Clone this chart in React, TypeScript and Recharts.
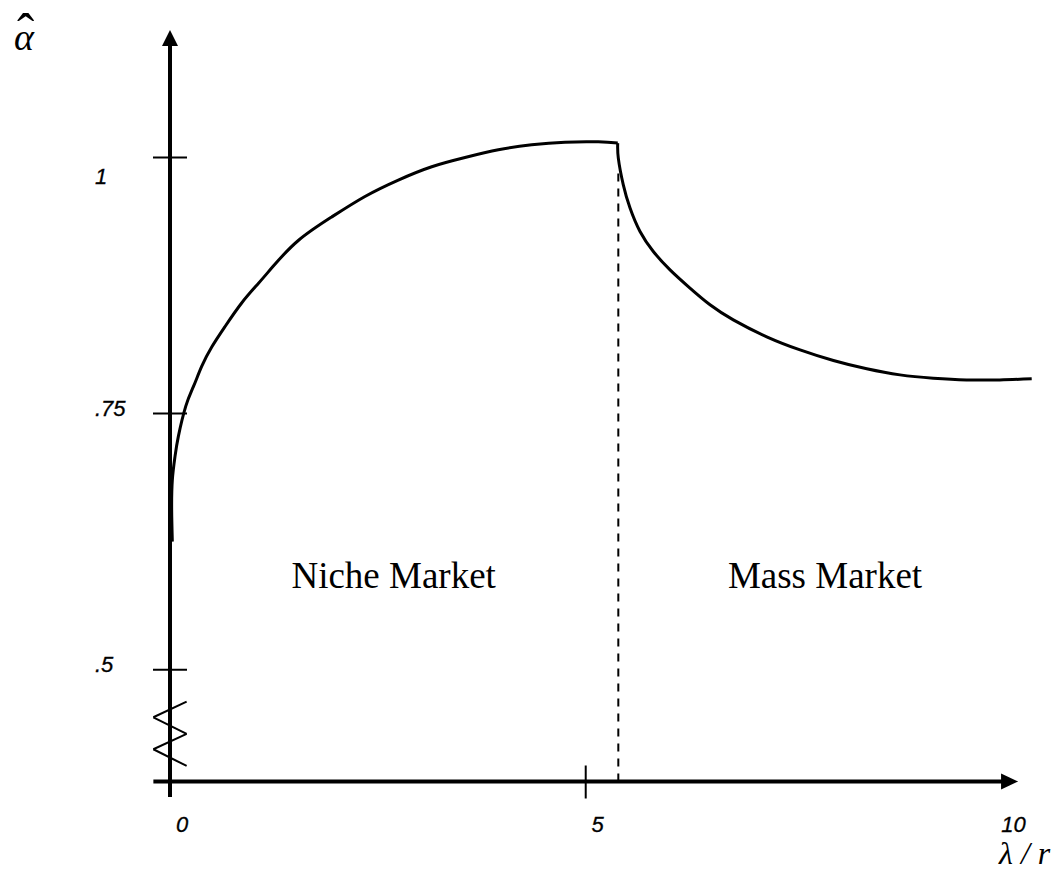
import React from 'react';
import { ComposedChart, Line, XAxis, YAxis, ReferenceLine, ReferenceDot } from 'recharts';

// alpha-hat against lambda / r
const NICHE_X = [0.028, 0.02, 0.028, 0.06, 0.1, 0.189, 0.28, 0.381, 0.502, 0.662, 0.862, 1.062, 1.243, 1.543, 1.945, 2.345, 2.746, 3.148, 3.548, 3.949, 4.35, 4.751, 5.151, 5.385];
const NICHE_Y = [0.625, 0.656, 0.685, 0.708, 0.7275, 0.757, 0.776, 0.796, 0.815, 0.835, 0.858, 0.877, 0.894, 0.919, 0.942, 0.962, 0.978, 0.991, 1.0, 1.0075, 1.0124, 1.015, 1.0153, 1.0141];
const MASS_X = [5.385, 5.392, 5.452, 5.533, 5.653, 5.813, 6.014, 6.254, 6.495, 6.775, 7.177, 7.578, 7.979, 8.38, 8.78, 9.18, 9.58, 9.98, 10.364];
const MASS_Y = [1.0141, 0.9994, 0.9733, 0.9506, 0.9277, 0.9082, 0.8903, 0.8725, 0.8562, 0.8415, 0.825, 0.8122, 0.8018, 0.7937, 0.7878, 0.7846, 0.7829, 0.7829, 0.7839];

const BOUNDARY_X = 5.392;

const X_TICKS = [0, 5, 10];
const X_TICK_LABELS = ['0', '5', '10'];
const Y_TICKS = [0.5, 0.75, 1];
const Y_TICK_LABELS = ['.5', '.75', '1'];

const REGION_LABELS = ['Niche Market', 'Mass Market'];
const REGION_X = [2.69, 7.878];
const REGION_Y = 0.5801;

// axis break symbol on the y axis
const BREAK_X = [0.2, -0.2, 0.2, -0.2, 0.2];
const BREAK_Y = [0.4688, 0.4535, 0.4373, 0.4223, 0.406];

const X_DOMAIN = [0, 10.4];
const Y_DOMAIN = [0.3908, 1.1245];
const X_AXIS_START = -0.2;
const X_ARROW = 10.2;
const Y_AXIS_START = 0.3757;

const nicheData = NICHE_X.map((x, i) => ({ x, y: NICHE_Y[i] }));
const massData = MASS_X.map((x, i) => ({ x, y: MASS_Y[i] }));

const SANS = "'Liberation Sans', Arial, sans-serif";
const SERIF = "'Liberation Serif', 'Times New Roman', serif";

const YTick = (props: any) => {
  const { x, y, payload } = props;
  const label = Y_TICK_LABELS[Y_TICKS.indexOf(payload.value)];
  return (
    <g>
      <line x1={x - 17} x2={x + 17} y1={y} y2={y} stroke="#000" strokeWidth={2} />
      <text x={x - 75} y={y + (payload.value === 1 ? 26 : 2)} fontFamily={SANS} fontStyle="italic" fontSize={22} fill="#000" stroke="#000" strokeWidth={0.3}>
        {label}
      </text>
    </g>
  );
};

const XTick = (props: any) => {
  const { x, y, payload } = props;
  const label = X_TICK_LABELS[X_TICKS.indexOf(payload.value)];
  return (
    <g>
      {payload.value === 5 && <line x1={x} x2={x} y1={y - 16} y2={y + 17} stroke="#000" strokeWidth={2} />}
      <text x={x + 12} y={y + 50} textAnchor="middle" fontFamily={SANS} fontStyle="italic" fontSize={22} fill="#000" stroke="#000" strokeWidth={0.3}>
        {label}
      </text>
    </g>
  );
};

const upArrow = (props: any) => {
  const { cx, cy } = props;
  return <polygon points={`${cx},${cy} ${cx - 8},${cy + 16} ${cx + 8},${cy + 16}`} fill="#000" />;
};

const rightArrow = (props: any) => {
  const { cx, cy } = props;
  return <polygon points={`${cx},${cy} ${cx - 17},${cy - 8} ${cx - 17},${cy + 8}`} fill="#000" />;
};

const regionText = (text: string) => (props: any) => (
  <text x={props.cx} y={props.cy} textAnchor="middle" fontFamily={SERIF} fontSize={37} fill="#000">
    {text}
  </text>
);

// axis titles hang off the arrow tips
const yTitle = (props: any) => {
  const { cx, cy } = props;
  return (
    <text y={cy + 20} fontFamily={SERIF} fill="#000">
      <tspan x={cx - 156} fontStyle="italic" fontSize={38}>{'\u03B1'}</tspan>
      <tspan x={cx - 153} fontSize={52}>{'\u02C6'}</tspan>
    </text>
  );
};

const xTitle = (props: any) => {
  const { cx, cy } = props;
  return (
    <text x={cx - 19} y={cy + 82} fontFamily={SERIF} fontStyle="italic" fontSize={32} fill="#000">
      {'\u03BB / r'}
    </text>
  );
};

export default function App() {
  return (
    <div style={{ position: 'absolute', left: 0, top: 0, background: '#fff' }}>
      <ComposedChart
        width={1057}
        height={893}
        margin={{ top: 30, right: 22.3, bottom: 51.5, left: 110 }}
      >
        <XAxis
          type="number"
          dataKey="x"
          domain={X_DOMAIN}
          allowDataOverflow
          ticks={X_TICKS}
          interval={0}
          height={60}
          tickSize={0}
          tickMargin={0}
          axisLine={false}
          tickLine={false}
          tick={XTick}
        />
        <YAxis
          type="number"
          dataKey="y"
          domain={Y_DOMAIN}
          allowDataOverflow
          ticks={Y_TICKS}
          interval={0}
          width={60}
          tickSize={0}
          tickMargin={0}
          axisLine={false}
          tickLine={false}
          tick={YTick}
        />

        {/* axes */}
        <ReferenceLine
          segment={[{ x: 0, y: Y_AXIS_START }, { x: 0, y: 1.11 }]}
          stroke="#000"
          strokeWidth={4}
          ifOverflow="visible"
        />
        <ReferenceLine
          segment={[{ x: X_AXIS_START, y: Y_DOMAIN[0] }, { x: 10.05, y: Y_DOMAIN[0] }]}
          stroke="#000"
          strokeWidth={4}
          ifOverflow="visible"
        />
        <ReferenceDot x={0} y={Y_DOMAIN[1]} r={0} ifOverflow="visible" shape={upArrow} />
        <ReferenceDot x={X_ARROW} y={Y_DOMAIN[0]} r={0} ifOverflow="visible" shape={rightArrow} />
        <ReferenceDot x={0} y={Y_DOMAIN[1]} r={0} ifOverflow="visible" shape={yTitle} />
        <ReferenceDot x={X_ARROW} y={Y_DOMAIN[0]} r={0} ifOverflow="visible" shape={xTitle} />

        {BREAK_X.slice(1).map((bx, i) => (
          <ReferenceLine
            key={`brk-${i}`}
            segment={[{ x: BREAK_X[i], y: BREAK_Y[i] }, { x: bx, y: BREAK_Y[i + 1] }]}
            stroke="#000"
            strokeWidth={2}
            ifOverflow="visible"
          />
        ))}

        <ReferenceLine
          segment={[{ x: BOUNDARY_X, y: Y_DOMAIN[0] }, { x: BOUNDARY_X, y: 0.99 }]}
          stroke="#000"
          strokeWidth={2}
          strokeDasharray="8 7"
          ifOverflow="visible"
        />

        {REGION_LABELS.map((t, i) => (
          <ReferenceDot key={t} x={REGION_X[i]} y={REGION_Y} r={0} ifOverflow="visible" shape={regionText(t)} />
        ))}

        <Line
          data={nicheData}
          type="natural"
          dataKey="y"
          stroke="#000"
          strokeWidth={3}
          dot={false}
          activeDot={false}
          isAnimationActive={false}
        />
        <Line
          data={massData}
          type="natural"
          dataKey="y"
          stroke="#000"
          strokeWidth={3}
          dot={false}
          activeDot={false}
          isAnimationActive={false}
        />
      </ComposedChart>
    </div>
  );
}
